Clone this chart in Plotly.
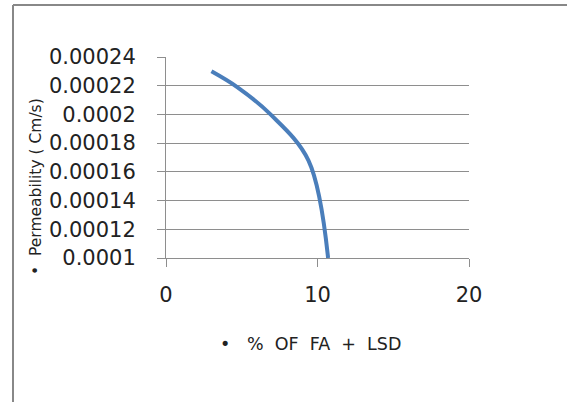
import plotly.graph_objects as go

# Data
fa_lsd_percent = [3, 4.7, 6.9, 9.4, 10.7]
permeability = [0.00023, 0.000219, 0.0002, 0.000168, 0.0001]

y_ticks = [0.0001, 0.00012, 0.00014, 0.00016, 0.00018, 0.0002, 0.00022, 0.00024]
y_tick_text = ["0.0001", "0.00012", "0.00014", "0.00016", "0.00018", "0.0002", "0.00022", "0.00024"]
x_ticks = [0, 10, 20]

x_title = "\u2022  \u00a0%\u00a0 OF\u00a0 FA\u00a0 +\u00a0 LSD"
y_title = "\u2022  Permeability ( Cm/s)"

W, H = 567, 402
L, R, T, B = 166, 98, 57, 144
PW, PH = W - L - R, H - T - B

def px_x(p):
    return (p - L) / PW

def px_y(p):
    return (H - B - p) / PH

fig = go.Figure()
fig.add_trace(go.Scatter(
    x=fa_lsd_percent, y=permeability, mode="lines",
    line=dict(color="#4A7EBB", width=4, shape="spline", smoothing=1.0),
    showlegend=False, hoverinfo="skip",
))

grid = "#8E8E8E"
font_fam = "DejaVu Sans, sans-serif"
txt = "#222222"
fig.update_layout(
    width=W, height=H,
    margin=dict(l=L, r=R, t=T, b=B, pad=0),
    paper_bgcolor="white", plot_bgcolor="white",
    font=dict(family=font_fam, color=txt),
    xaxis=dict(
        range=[0, 20], tickvals=x_ticks, ticktext=[str(v) for v in x_ticks],
        showgrid=False, zeroline=False,
        showline=True, linecolor=grid, linewidth=1,
        ticks="outside", ticklen=8, tickcolor=grid, tickwidth=1,
        tickfont=dict(size=21, family=font_fam, color=txt),
        ticklabelstandoff=10,
    ),
    yaxis=dict(
        range=[0.0001, 0.00024], tickvals=y_ticks, ticktext=y_tick_text,
        showgrid=True, gridcolor=grid, gridwidth=1,
        zeroline=False,
        showline=True, linecolor=grid, linewidth=1,
        ticks="outside", ticklen=8, tickcolor=grid, tickwidth=1,
        tickfont=dict(size=21, family=font_fam, color=txt),
        ticklabelstandoff=17,
    ),
)

fig.add_annotation(text=x_title, xref="paper", yref="paper",
                   x=px_x(310), y=px_y(343.5), xanchor="center", yanchor="middle",
                   showarrow=False, font=dict(size=17.5, family=font_fam, color=txt))
fig.add_annotation(text=y_title, xref="paper", yref="paper", textangle=-90,
                   x=px_x(36), y=px_y(187), xanchor="center", yanchor="middle",
                   showarrow=False, font=dict(size=15.5, family=font_fam, color=txt))

# outer chart frame (only top and left edges visible in the reference)
frame = dict(color="#888888", width=2)
fig.add_shape(type="line", xref="paper", yref="paper",
              x0=px_x(13), x1=px_x(W + 5), y0=px_y(5), y1=px_y(5), line=frame, layer="below")
fig.add_shape(type="line", xref="paper", yref="paper",
              x0=px_x(13), x1=px_x(13), y0=px_y(5), y1=px_y(H + 5), line=frame, layer="below")

fig.write_html("out.html")
